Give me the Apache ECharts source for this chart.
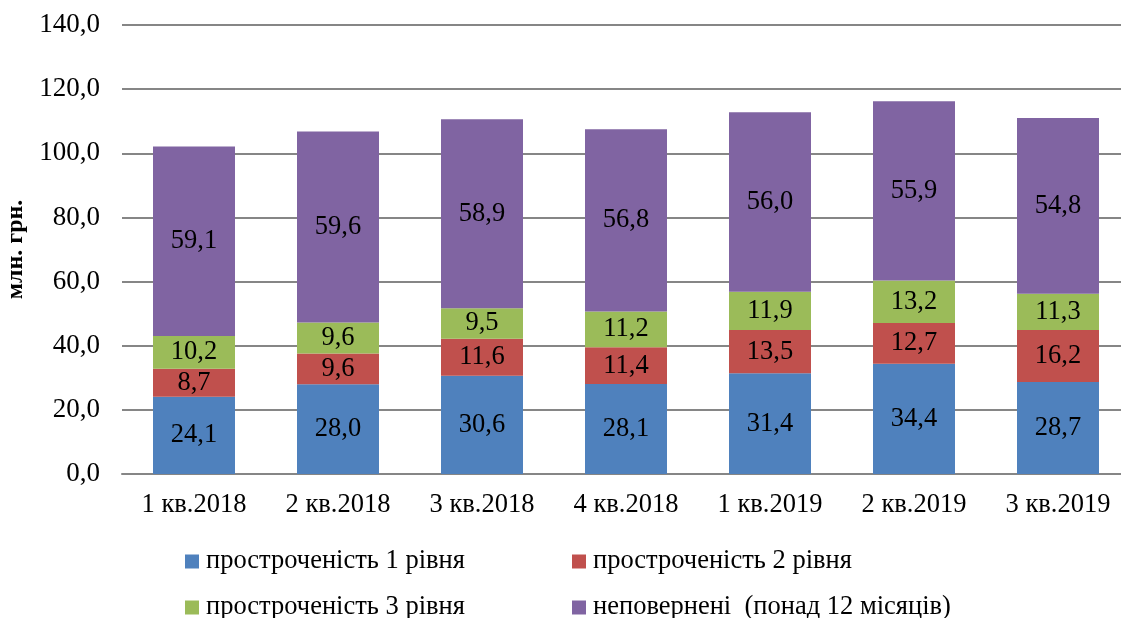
<!DOCTYPE html>
<html>
<head>
<meta charset="utf-8">
<script src="https://cdn.jsdelivr.net/npm/echarts@6/dist/echarts.min.js"></script>
<style>
html,body{margin:0;padding:0;background:#fff;}
#c{width:1121px;height:618px;}
</style>
</head>
<body>
<div id="c"></div>
<script>
const categories = ['1 кв.2018','2 кв.2018','3 кв.2018','4 кв.2018','1 кв.2019','2 кв.2019','3 кв.2019'];
const seriesNames = ['простроченість 1 рівня','простроченість 2 рівня','простроченість 3 рівня','неповернені  (понад 12 місяців)'];
const level1 = [24.1, 28.0, 30.6, 28.1, 31.4, 34.4, 28.7];
const level2 = [8.7, 9.6, 11.6, 11.4, 13.5, 12.7, 16.2];
const level3 = [10.2, 9.6, 9.5, 11.2, 11.9, 13.2, 11.3];
const unreturned = [59.1, 59.6, 58.9, 56.8, 56.0, 55.9, 54.8];
const colors = ['#4F81BD','#C0504D','#9BBB59','#8064A2'];
const FONT = '"Liberation Serif","Times New Roman",serif';

const fmt = v => v.toFixed(1).replace('.', ',');
const data = [level1, level2, level3, unreturned];

const chart = echarts.init(document.getElementById('c'), null, {renderer:'canvas'});
const legendPos = [
  {left:185, top:548},
  {left:572, top:548},
  {left:185, top:594},
  {left:572, top:594}
];
chart.setOption({
  animation:false,
  textStyle:{fontFamily:FONT},
  grid:{left:122, top:25, width:1008, height:449, containLabel:false, outerBoundsMode:'none'},
  legend: seriesNames.map((n,i)=>({
    data:[n], left:legendPos[i].left, top:legendPos[i].top,
    itemWidth:14, itemHeight:14, itemGap:6, icon:'rect',
    textStyle:{fontFamily:FONT, fontSize:26.5, color:'#000', padding:[0,0,0,2]},
    padding:0
  })),
  xAxis:{
    type:'category', data:categories,
    axisLine:{lineStyle:{color:'#868686', width:2}},
    axisTick:{show:false},
    axisLabel:{fontFamily:FONT, fontSize:26.5, color:'#000', margin:18}
  },
  yAxis:{
    type:'value', min:0, max:140, interval:20,
    name:'млн. грн.', nameLocation:'middle', nameRotate:90, nameGap:94,
    nameTextStyle:{fontFamily:FONT, fontSize:24, fontWeight:'bold', color:'#000'},
    axisLine:{show:false}, axisTick:{show:false},
    axisLabel:{fontFamily:FONT, fontSize:27, color:'#000', margin:22, formatter:v=>fmt(v)},
    splitLine:{lineStyle:{color:'#868686', width:2}}
  },
  series: seriesNames.map((n,i)=>({
    name:n, type:'bar', stack:'total', data:data[i], barWidth:82,
    itemStyle:{color:colors[i]},
    label:{show:true, position:'inside', fontFamily:FONT, fontSize:26.5, color:'#000', formatter:p=>fmt(p.value)}
  }))
});
</script>
</body>
</html>
